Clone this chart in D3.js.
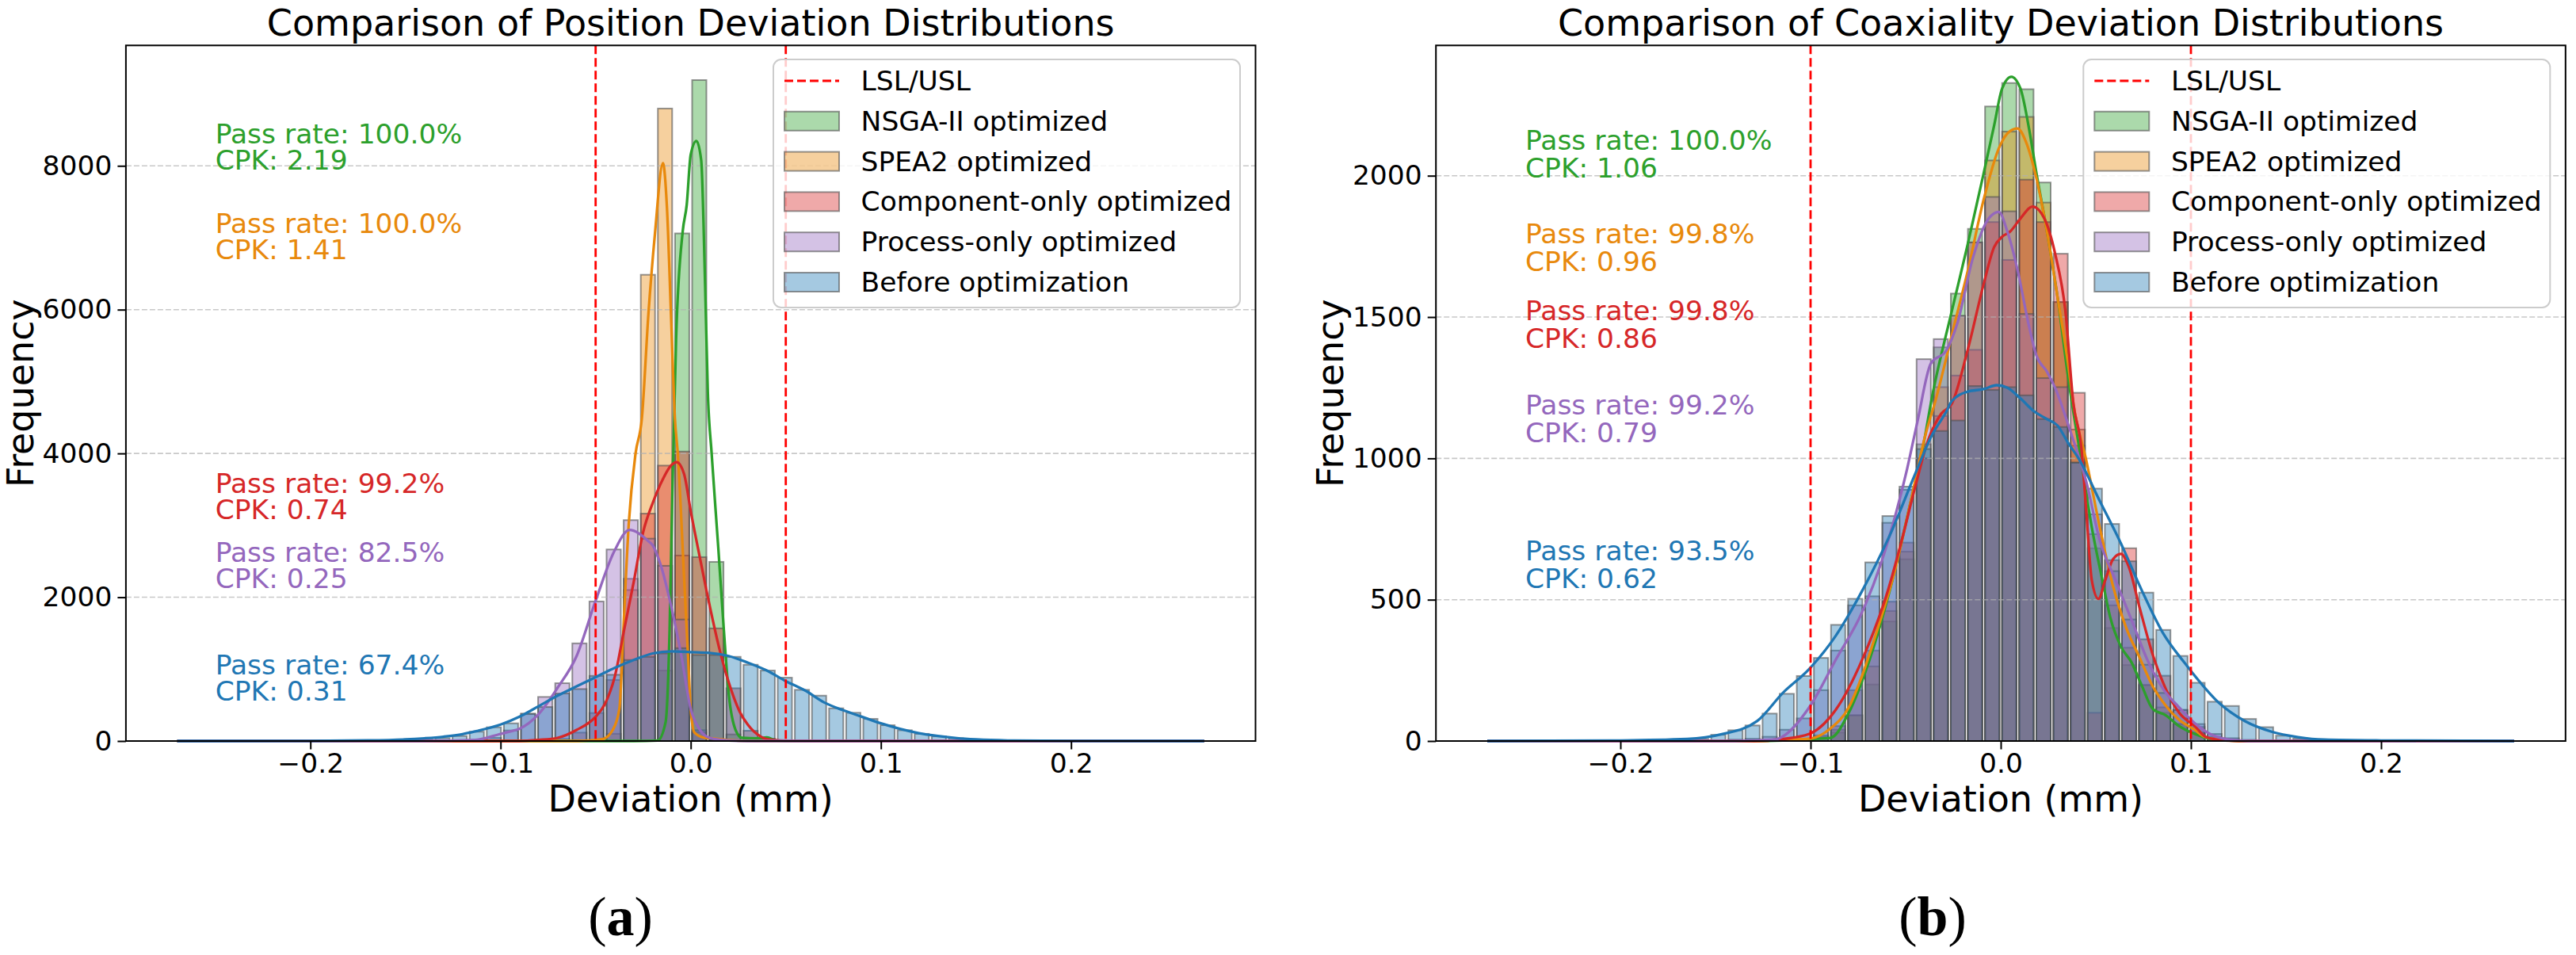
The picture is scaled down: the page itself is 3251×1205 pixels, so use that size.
<!DOCTYPE html>
<html>
<head>
<meta charset="utf-8">
<script src="https://cdn.jsdelivr.net/npm/d3@7"></script>
<style>
  body { margin: 0; background: #fff; }
  svg { display: block; }
  text { font-family: "DejaVu Sans", sans-serif; }
</style>
</head>
<body>
<div id="chart"></div>
<script>
// ---- data ----------------------------------------------------------------
// histogram bins are 0.009 wide; index 0 is the bin starting at -0.180
const binWidth = 0.009;
const firstBin = -20;

const seriesNames = ["NSGA-II optimized", "SPEA2 optimized", "Component-only optimized", "Process-only optimized", "Before optimization"];
const seriesColors = ["#2ca02c", "#e8890c", "#d62728", "#9467bd", "#1f77b4"];

// (a) position deviation, counts per bin
const posNSGA = [0,0,0,0,0,0,0,0,0,0, 0,0,0,0,0,0,0,10,980,7060, 9193,2492,92,40,30,10,0,0,0,0, 0,0,0,0,0,0,0,0,0,0];
const posSPEA2 = [0,0,0,0,0,0,0,0,0,0, 0,0,0,0,10,100,2100,6485,8797,2580, 120,20,10,5,0,0,0,0,0,0, 0,0,0,0,0,0,0,0,0,0];
const posComponent = [0,0,0,0,0,0,0,0,0,0, 0,10,30,117,390,850,2257,3163,3831,4026, 2558,1567,734,143,30,5,0,0,0,0, 0,0,0,0,0,0,0,0,0,0];
const posProcess = [0,0,0,0,0,0,3,10,44,147, 374,613,804,1358,1941,2664,3072,2815,2437,1690, 150,20,0,0,0,0,0,0,0,0, 0,0,0,0,0,0,0,0,0,0];
const posBefore = [0,0,3,8,20,40,70,130,191,246, 382,473,661,723,906,921,1127,1171,1218,1292, 1196,1196,1171,1061,980,881,712,631,455,393, 308,220,150,100,65,40,22,10,5,2];

// (a) kde curves, [deviation, frequency]
const posNSGAKde = [[-0.27,0],[-0.03,0],[-0.0174,7],[-0.0132,264],[-0.0111,1549],[-0.0097,3400],[-0.0077,5585],[-0.0042,7090],[-0.0021,7457],[0,8155],[0.003,8346],[0.0055,8081],[0.0076,6320],[0.009,4852],[0.011,4000],[0.0146,2650],[0.0174,1549],[0.0201,631],[0.0236,154],[0.027,44],[0.035,37],[0.04,51],[0.045,7],[0.05,0],[0.27,0]];
const posSPEA2Kde = [[-0.27,0],[-0.06,0],[-0.0465,26],[-0.041,154],[-0.0375,448],[-0.0354,1549],[-0.0326,3017],[-0.029,4000],[-0.0257,4485],[-0.0222,5956],[-0.0188,7057],[-0.0146,8037],[-0.0125,7420],[-0.0104,5956],[-0.0083,4485],[-0.0068,4000],[-0.0035,2283],[-0.0014,1182],[0,448],[0.002,117],[0.0076,44],[0.0118,37],[0.0188,15],[0.0257,4],[0.035,0],[0.27,0]];
const posComponentKde = [[-0.27,0],[-0.09,0],[-0.08,15],[-0.07,44],[-0.06,154],[-0.05,338],[-0.045,521],[-0.04,888],[-0.035,1549],[-0.03,2209],[-0.025,2907],[-0.02,3310],[-0.016,3567],[-0.01,3842],[-0.0074,3879],[-0.0035,3714],[0,3200],[0.0049,2540],[0.01,1879],[0.015,1292],[0.02,815],[0.0257,411],[0.03,228],[0.0368,62],[0.04,26],[0.05,4],[0.06,0],[0.27,0]];
const posProcessKde = [[-0.27,0],[-0.14,0],[-0.1132,15],[-0.1,99],[-0.0944,136],[-0.09,172],[-0.08,374],[-0.07,741],[-0.06,1182],[-0.05,1952],[-0.04,2650],[-0.0322,2936],[-0.03,2925],[-0.0222,2778],[-0.02,2723],[-0.016,2466],[-0.01,1842],[-0.0049,1182],[0,448],[0.0049,154],[0.01,44],[0.02,7],[0.03,0],[0.27,0]];
const posBeforeKde = [[-0.27,0],[-0.2,2],[-0.17,8],[-0.15,22],[-0.14,38],[-0.13,60],[-0.12,95],[-0.113,136],[-0.1,228],[-0.09,338],[-0.08,484],[-0.07,631],[-0.06,760],[-0.05,888],[-0.04,1017],[-0.03,1127],[-0.02,1218],[-0.01,1248],[0,1237],[0.01,1226],[0.02,1182],[0.03,1090],[0.04,980],[0.05,833],[0.06,705],[0.07,539],[0.08,429],[0.09,338],[0.1,246],[0.11,170],[0.12,110],[0.13,70],[0.14,40],[0.15,22],[0.17,6],[0.2,1],[0.27,0]];

// (b) coaxiality deviation, counts per bin
const coaxNSGA = [0,0,0,0,0,0,0,2,5,10, 30,91,200,423,643,1050,1393,1583,1812,2245, 2328,2306,1976,1553,1045,682,400,269,198,100, 60,30,10,3,0,0,0,0,0,0];
const coaxSPEA2 = [0,0,0,0,0,0,0,2,5,15, 40,91,264,460,670,1000,1252,1504,1764,2054, 2156,2208,1905,1553,1102,732,480,330,198,119, 60,30,10,3,0,0,0,0,0,0];
const coaxComponent = [0,0,0,0,0,0,2,3,8,20, 53,180,320,493,702,1000,1150,1293,1384,1836, 1702,1986,1836,1724,1232,100,640,682,360,231, 110,50,15,5,0,0,0,0,0,0];
const coaxProcess = [0,0,0,2,5,8,15,40,80,180, 320,480,512,772,889,1351,1422,1504,1764,1925, 1874,1511,1284,1252,985,802,601,430,270,170, 110,60,25,10,4,0,0,0,0,0];
const coaxBefore = [0,2,7,22,38,55,97,167,230,294, 411,503,632,796,900,1033,1097,1134,1256,1242, 1252,1223,1139,1111,985,893,768,636,525,393, 301,206,139,124,78,49,19,9,3,1];

// (b) kde curves
const coaxNSGAKde = [[-0.27,0],[-0.13,0],[-0.1146,2],[-0.1007,7],[-0.0896,11],[-0.0799,100],[-0.0729,212],[-0.0646,381],[-0.0563,587],[-0.0479,830],[-0.041,1036],[-0.0361,1218],[-0.0257,1522],[-0.0174,1756],[-0.009,2008],[-0.0035,2177],[0.0007,2308],[0.0056,2350],[0.0104,2308],[0.0146,2177],[0.0188,2008],[0.0243,1803],[0.0299,1569],[0.0354,1288],[0.0424,989],[0.0479,755],[0.0535,568],[0.0576,437],[0.0632,334],[0.0688,278],[0.0743,194],[0.0799,114],[0.0868,91],[0.0938,53],[0.102,25],[0.11,8],[0.12,2],[0.13,0],[0.27,0]];
const coaxSPEA2Kde = [[-0.27,0],[-0.13,0],[-0.1146,4],[-0.1007,8],[-0.0896,44],[-0.0799,119],[-0.0729,231],[-0.0646,400],[-0.0563,587],[-0.0479,830],[-0.0396,1083],[-0.0345,1200],[-0.0243,1475],[-0.0174,1662],[-0.009,1915],[-0.0007,2102],[0.0049,2158],[0.0088,2167],[0.0132,2121],[0.0188,1990],[0.0243,1803],[0.0299,1569],[0.0354,1335],[0.0382,1194],[0.0451,989],[0.0521,755],[0.059,549],[0.066,400],[0.0729,297],[0.0799,194],[0.0868,125],[0.0938,75],[0.102,40],[0.1076,14],[0.12,2],[0.13,0],[0.27,0]];
const coaxComponentKde = [[-0.27,0],[-0.13,0],[-0.1146,7],[-0.1007,25],[-0.0868,110],[-0.0729,287],[-0.059,540],[-0.0521,709],[-0.0451,896],[-0.0382,1064],[-0.0313,1158],[-0.0257,1194],[-0.0174,1383],[-0.009,1616],[-0.0035,1747],[0.0007,1784],[0.0049,1802],[0.0104,1849],[0.0167,1891],[0.0229,1849],[0.0285,1727],[0.034,1521],[0.0382,1194],[0.0424,1036],[0.0451,802],[0.0479,568],[0.0514,503],[0.0549,568],[0.059,643],[0.0632,662],[0.0674,615],[0.0729,475],[0.0799,306],[0.0868,184],[0.0938,100],[0.102,53],[0.108,14],[0.118,2],[0.13,0],[0.27,0]];
const coaxProcessKde = [[-0.27,0],[-0.14,0],[-0.1187,5],[-0.1146,16],[-0.1007,119],[-0.0868,287],[-0.0729,456],[-0.0632,624],[-0.0549,811],[-0.0493,961],[-0.0438,1130],[-0.0368,1335],[-0.0285,1383],[-0.0229,1476],[-0.0146,1710],[-0.0063,1849],[-0.001,1872],[0.0035,1802],[0.009,1662],[0.0146,1476],[0.0188,1363],[0.0243,1307],[0.0285,1251],[0.0368,1092],[0.0451,914],[0.0521,709],[0.0604,568],[0.0688,428],[0.0771,287],[0.0854,184],[0.0938,119],[0.102,63],[0.11,25],[0.12,5],[0.13,0],[0.27,0]];
const coaxBeforeKde = [[-0.27,0],[-0.2,2],[-0.165,7],[-0.1467,24],[-0.128,71],[-0.1146,170],[-0.1007,255],[-0.0868,372],[-0.0729,531],[-0.059,718],[-0.0451,943],[-0.0368,1074],[-0.0285,1167],[-0.0257,1203],[-0.0174,1236],[-0.009,1245],[-0.0021,1259],[0.0035,1250],[0.0104,1212],[0.0174,1167],[0.0243,1139],[0.0299,1116],[0.0354,1055],[0.041,999],[0.0521,849],[0.0632,699],[0.0743,531],[0.0854,381],[0.0965,278],[0.1,248],[0.1146,136],[0.1285,70],[0.1424,33],[0.1563,14],[0.17,5],[0.2,2],[0.27,0]];

const posPassRates = ["100.0%", "100.0%", "99.2%", "82.5%", "67.4%"];
const posCpk = ["2.19", "1.41", "0.74", "0.25", "0.31"];
const coaxPassRates = ["100.0%", "99.8%", "99.8%", "99.2%", "93.5%"];
const coaxCpk = ["1.06", "0.96", "0.86", "0.79", "0.62"];

const xTicks = [-0.2, -0.1, 0, 0.1, 0.2];
const posYTicks = [0, 2000, 4000, 6000, 8000];
const coaxYTicks = [0, 500, 1000, 1500, 2000];

// ---- layout --------------------------------------------------------------
const width = 3251, height = 1205;
const plotTop = 57.3, plotBottom = 935;
const plotW = 1425.6;

const panels = [
  {
    title: "Comparison of Position Deviation Distributions",
    left: 158.9, yMax: 9675, yTicks: posYTicks, spec: 0.05,
    counts: [posNSGA, posSPEA2, posComponent, posProcess, posBefore],
    kdes: [posNSGAKde, posSPEA2Kde, posComponentKde, posProcessKde, posBeforeKde],
    pass: posPassRates, cpk: posCpk,
    noteY: [[181, 214], [294, 327], [622, 655], [709, 742], [851, 884]],
    caption: "a", captionX: 783
  },
  {
    title: "Comparison of Coaxiality Deviation Distributions",
    left: 1812.2, yMax: 2461, yTicks: coaxYTicks, spec: 0.1,
    counts: [coaxNSGA, coaxSPEA2, coaxComponent, coaxProcess, coaxBefore],
    kdes: [coaxNSGAKde, coaxSPEA2Kde, coaxComponentKde, coaxProcessKde, coaxBeforeKde],
    pass: coaxPassRates, cpk: coaxCpk,
    noteY: [[189, 224], [307, 342], [404, 439], [523, 558], [707, 742]],
    caption: "b", captionX: 2439
  }
];

const svg = d3.select("#chart")
  .append("svg")
  .attr("width", width)
  .attr("height", height)
  .attr("viewBox", `0 0 ${width} ${height}`);

const drawPanel = (p) => {
  const right = p.left + plotW;
  const x = d3.scaleLinear().domain([-0.297, 0.297]).range([p.left, right]);
  const y = d3.scaleLinear().domain([0, p.yMax]).range([plotBottom, plotTop]);
  const g = svg.append("g");

  // histogram bars, NSGA-II first so "Before" ends up on top
  p.counts.forEach((counts, s) => {
    const bins = counts.map((c, i) => ({ j: firstBin + i, c })).filter(d => d.c > 0);
    g.append("g").selectAll("rect")
      .data(bins)
      .join("rect")
      .attr("x", d => x(d.j * binWidth) + 1.8)
      .attr("width", d => x((d.j + 1) * binWidth) - x(d.j * binWidth) - 3.6)
      .attr("y", d => y(d.c))
      .attr("height", d => y(0) - y(d.c))
      .attr("fill", seriesColors[s])
      .attr("fill-opacity", 0.4)
      .attr("stroke", "#505050")
      .attr("stroke-opacity", 0.6)
      .attr("stroke-width", 2);
  });

  // dashed y grid
  g.append("g").selectAll("line")
    .data(p.yTicks.filter(t => t > 0))
    .join("line")
    .attr("x1", p.left).attr("x2", right)
    .attr("y1", d => y(d)).attr("y2", d => y(d))
    .attr("stroke", "#b0b0b0")
    .attr("stroke-opacity", 0.7)
    .attr("stroke-width", 1.6)
    .attr("stroke-dasharray", "7,3");

  // kde lines
  const line = d3.line()
    .x(d => x(d[0]))
    .y(d => y(d[1]))
    .curve(d3.curveMonotoneX);
  p.kdes.forEach((kde, s) => {
    g.append("path")
      .attr("d", line(kde))
      .attr("fill", "none")
      .attr("stroke", seriesColors[s])
      .attr("stroke-width", 3.3)
      .attr("stroke-linejoin", "round");
  });

  // LSL / USL
  g.append("g").selectAll("line")
    .data([-p.spec, p.spec])
    .join("line")
    .attr("x1", d => x(d)).attr("x2", d => x(d))
    .attr("y1", plotTop).attr("y2", plotBottom)
    .attr("stroke", "#ff0000")
    .attr("stroke-width", 2.8)
    .attr("stroke-dasharray", "11,5");

  // frame
  g.append("rect")
    .attr("x", p.left).attr("y", plotTop)
    .attr("width", plotW).attr("height", plotBottom - plotTop)
    .attr("fill", "none")
    .attr("stroke", "#000")
    .attr("stroke-width", 2);

  // axes
  const xAxis = g.append("g")
    .attr("transform", `translate(0, ${plotBottom})`)
    .call(d3.axisBottom(x).tickValues(xTicks).tickSize(10.5).tickPadding(5).tickFormat(d3.format(".1f")));
  const yAxis = g.append("g")
    .attr("transform", `translate(${p.left}, 0)`)
    .call(d3.axisLeft(y).tickValues(p.yTicks).tickSize(10.5).tickPadding(7).tickFormat(d3.format("d")));
  [xAxis, yAxis].forEach(a => {
    a.select(".domain").remove();
    a.selectAll(".tick line").attr("stroke", "#000").attr("stroke-width", 2);
    a.selectAll("text")
      .attr("font-family", "DejaVu Sans")
      .attr("font-size", 34.5)
      .attr("fill", "#000");
  });

  // titles and labels
  g.append("text")
    .attr("x", p.left + plotW / 2).attr("y", 45)
    .attr("text-anchor", "middle")
    .attr("font-size", 46)
    .text(p.title);
  g.append("text")
    .attr("x", p.left + plotW / 2).attr("y", 1024)
    .attr("text-anchor", "middle")
    .attr("font-size", 46)
    .text("Deviation (mm)");
  g.append("text")
    .attr("transform", `translate(${p.left - 117}, ${(plotTop + plotBottom) / 2}) rotate(-90)`)
    .attr("text-anchor", "middle")
    .attr("font-size", 46)
    .text("Frequency");

  // pass rate / cpk notes
  p.pass.forEach((rate, s) => {
    const t = g.append("text")
      .attr("font-size", 34.5)
      .attr("fill", seriesColors[s]);
    t.append("tspan").attr("x", p.left + 112.8).attr("y", p.noteY[s][0]).text(`Pass rate: ${rate}`);
    t.append("tspan").attr("x", p.left + 112.8).attr("y", p.noteY[s][1]).text(`CPK: ${p.cpk[s]}`);
  });

  // legend
  const lx = right - 608.5;
  const legend = g.append("g").attr("class", "legend");
  legend.append("rect")
    .attr("x", lx).attr("y", 75)
    .attr("width", 589).attr("height", 313)
    .attr("rx", 10)
    .attr("fill", "#fff").attr("fill-opacity", 0.8)
    .attr("stroke", "#cccccc").attr("stroke-width", 2);
  const rowY = i => 102 + 50.8 * i;
  legend.append("line")
    .attr("x1", lx + 14).attr("x2", lx + 83)
    .attr("y1", rowY(0)).attr("y2", rowY(0))
    .attr("stroke", "#ff0000").attr("stroke-width", 2.8)
    .attr("stroke-dasharray", "11,5");
  legend.append("text")
    .attr("x", lx + 110.6).attr("y", rowY(0) + 12)
    .attr("font-size", 34.5)
    .text("LSL/USL");
  seriesNames.forEach((name, s) => {
    const cy = rowY(s + 1);
    legend.append("rect")
      .attr("x", lx + 14).attr("y", cy - 12)
      .attr("width", 69).attr("height", 24)
      .attr("fill", seriesColors[s]).attr("fill-opacity", 0.4)
      .attr("stroke", "#505050").attr("stroke-opacity", 0.6).attr("stroke-width", 2);
    legend.append("text")
      .attr("x", lx + 110.6).attr("y", cy + 12)
      .attr("font-size", 34.5)
      .text(name);
  });

  // sub-figure caption (serif, bold letter)
  const cap = svg.append("text")
    .attr("x", p.captionX).attr("y", 1180)
    .attr("text-anchor", "middle")
    .style("font-family", "'Liberation Serif', 'DejaVu Serif', serif")
    .attr("font-size", 70);
  cap.append("tspan").text("(");
  cap.append("tspan").attr("font-weight", "bold").text(p.caption);
  cap.append("tspan").text(")");
};

panels.forEach(drawPanel);
</script>
</body>
</html>
